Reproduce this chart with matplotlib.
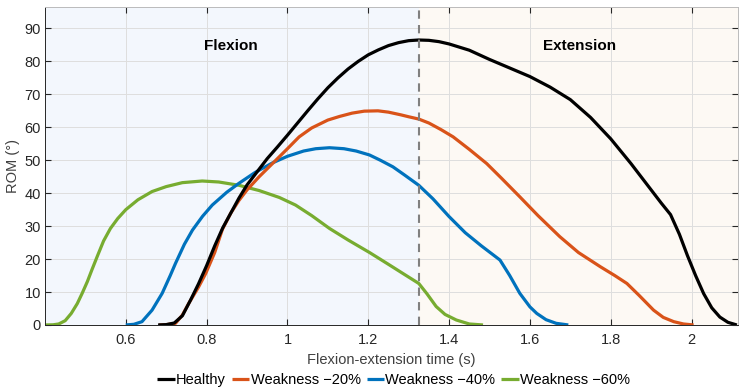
import matplotlib
matplotlib.use("Agg")
import matplotlib.pyplot as plt

plt.rcParams['font.family'] = ['Liberation Sans', 'DejaVu Sans']

# values (time s, ROM deg)
t_healthy = [0.68, 0.70, 0.72, 0.74, 0.76, 0.78, 0.80, 0.82, 0.84, 0.86,
             0.88, 0.90, 0.925, 0.95, 0.975, 1.00, 1.025, 1.05, 1.075, 1.10,
             1.125, 1.15, 1.175, 1.20, 1.225, 1.25, 1.275, 1.30, 1.325, 1.35,
             1.375, 1.40, 1.45, 1.50, 1.55, 1.60, 1.65, 1.70, 1.75, 1.80,
             1.85, 1.90, 1.925, 1.948, 1.97, 1.99, 2.01, 2.03, 2.05, 2.07,
             2.09, 2.112]
rom_healthy = [0.0, 0.1, 0.6, 2.8, 7.5, 12.5, 18.0, 24.0, 29.5, 34.0,
               38.5, 42.5, 46.5, 50.5, 54.0, 57.6, 61.3, 65.0, 68.6, 72.0,
               75.0, 77.7, 80.0, 82.0, 83.5, 84.8, 85.7, 86.3, 86.5, 86.4,
               86.0, 85.3, 83.4, 80.6, 78.0, 75.4, 72.2, 68.4, 63.0, 56.5,
               49.0, 41.0, 37.0, 33.5, 27.5, 21.0, 15.0, 9.5, 5.2, 2.4,
               0.8, 0.0]

t_w20 = [0.682, 0.70, 0.723, 0.74, 0.756, 0.78, 0.798, 0.82, 0.839, 0.86,
         0.88, 0.90, 0.93, 0.963, 1.00, 1.029, 1.06, 1.10, 1.129, 1.16,
         1.19, 1.224, 1.25, 1.28, 1.30, 1.325, 1.35, 1.38, 1.41, 1.45,
         1.493, 1.53, 1.575, 1.62, 1.674, 1.72, 1.774, 1.81, 1.84, 1.87,
         1.906, 1.93, 1.956, 1.98, 2.005]
rom_w20 = [0.0, 0.1, 0.5, 3.0, 6.6, 11.5, 15.7, 22.0, 29.0, 34.0,
           37.8, 41.0, 45.0, 49.0, 53.5, 57.1, 59.8, 62.2, 63.3, 64.3,
           64.9, 65.0, 64.6, 63.8, 63.2, 62.5, 61.3, 59.3, 57.1, 53.3,
           49.0, 44.5, 38.9, 33.2, 26.8, 22.0, 17.7, 15.0, 12.6, 9.0,
           4.5, 2.3, 1.0, 0.3, 0.0]

t_w40 = [0.600, 0.62, 0.640, 0.665, 0.690, 0.71, 0.723, 0.745, 0.765, 0.79,
         0.814, 0.85, 0.88, 0.92, 0.963, 1.00, 1.04, 1.07, 1.104, 1.14,
         1.17, 1.203, 1.23, 1.261, 1.29, 1.325, 1.36, 1.40, 1.44, 1.48,
         1.51, 1.526, 1.55, 1.575, 1.60, 1.617, 1.64, 1.665, 1.695]
rom_w40 = [0.0, 0.2, 1.0, 4.5, 9.6, 15.0, 18.7, 24.5, 28.8, 33.0,
           36.4, 40.3, 43.0, 46.3, 49.2, 51.2, 52.8, 53.5, 53.8, 53.5,
           52.8, 51.6, 50.0, 48.0, 45.5, 42.4, 38.3, 32.9, 28.0, 24.0,
           21.2, 19.7, 15.0, 9.6, 5.5, 3.5, 1.6, 0.5, 0.0]

t_w60 = [0.400, 0.42, 0.434, 0.45, 0.465, 0.48, 0.492, 0.505, 0.516, 0.53,
         0.545, 0.562, 0.58, 0.60, 0.63, 0.665, 0.70, 0.74, 0.789, 0.83,
         0.88, 0.93, 0.98, 1.02, 1.06, 1.104, 1.15, 1.203, 1.25, 1.29,
         1.325, 1.345, 1.368, 1.39, 1.418, 1.45, 1.484]
rom_w60 = [0.0, 0.05, 0.3, 1.3, 3.5, 6.5, 9.6, 13.2, 16.7, 21.0,
           25.5, 29.3, 32.3, 35.0, 38.0, 40.5, 42.0, 43.2, 43.7, 43.4,
           42.4, 40.8, 38.7, 36.4, 33.2, 29.3, 25.8, 22.0, 18.4, 15.3,
           12.6, 9.5, 5.6, 3.2, 1.5, 0.3, 0.0]

series = [
    ("Healthy", t_healthy, rom_healthy, "#000000"),
    ("Weakness \u221220%", t_w20, rom_w20, "#d95319"),
    ("Weakness \u221240%", t_w40, rom_w40, "#0072bd"),
    ("Weakness \u221260%", t_w60, rom_w60, "#77ac30"),
]

t_switch = 1.325
xlim = (0.4, 2.115)
ylim = (0, 96.5)

fig = plt.figure(figsize=(7.47, 3.92), dpi=100)
ax = fig.add_axes([0.0602, 0.171, 0.9278, 0.811])

ax.axvspan(xlim[0], t_switch, color="#f3f7fd", zorder=0.1, lw=0)
ax.axvspan(t_switch, xlim[1], color="#fdf9f4", zorder=0.1, lw=0)

for name, t, r, c in series[::-1]:
    ax.plot(t, r, color=c, lw=2.3, label=name, solid_capstyle="butt",
            solid_joinstyle="round")

ax.axvline(t_switch, color="#808080", lw=1.5, ls=(0, (4, 3)), zorder=5)

ax.text(0.86, 84.6, "Flexion", fontsize=11, fontweight="bold",
        ha="center", va="center")
ax.text(1.722, 84.6, "Extension", fontsize=11, fontweight="bold",
        ha="center", va="center")

ax.set_xlim(*xlim)
ax.set_ylim(*ylim)
ax.set_xticks([0.6, 0.8, 1, 1.2, 1.4, 1.6, 1.8, 2])
ax.set_xticklabels(["0.6", "0.8", "1", "1.2", "1.4", "1.6", "1.8", "2"])
ax.set_yticks(range(0, 100, 10))
ax.grid(True, color="#dedede", lw=0.7)
ax.set_axisbelow(True)
ax.tick_params(direction="in", length=4, top=True, right=True,
               labelsize=10.5, colors="#262626")
ax.tick_params(axis="x", pad=6)
ax.tick_params(axis="y", pad=3)
for s in ax.spines.values():
    s.set_color("#262626")
    s.set_linewidth(0.7)
for s in ("top", "right"):
    ax.spines[s].set_color("#bbbbbb")

ax.set_xlabel("Flexion-extension time (s)", fontsize=10.5, color="#404040", labelpad=4)
ax.set_ylabel("ROM (\u00b0)", fontsize=10.5, color="#404040", labelpad=3)

h, l = ax.get_legend_handles_labels()
fig.legend(h[::-1], l[::-1], loc="center", bbox_to_anchor=(0.527, 0.031), ncol=4,
           frameon=False, fontsize=10.5, handlelength=1.2, handletextpad=0.1,
           columnspacing=0.4, borderaxespad=0)

fig.savefig("out.png", dpi=100)
